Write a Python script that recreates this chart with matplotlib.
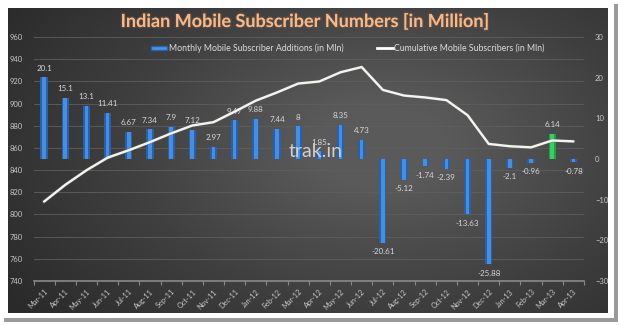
import matplotlib
matplotlib.use('Agg')
import matplotlib.pyplot as plt
import numpy as np
from matplotlib.patches import Rectangle, Patch
from matplotlib.lines import Line2D
from matplotlib.colors import LinearSegmentedColormap
import matplotlib.patheffects as pe

plt.rcParams['font.family'] = ['Lato', 'DejaVu Sans']

months = ['Mar-11', 'Apr-11', 'May-11', 'Jun-11', 'Jul-11', 'Aug-11', 'Sep-11', 'Oct-11',
          'Nov-11', 'Dec-11', 'Jan-12', 'Feb-12', 'Mar-12', 'Apr-12', 'May-12', 'Jun-12',
          'Jul-12', 'Aug-12', 'Sep-12', 'Oct-12', 'Nov-12', 'Dec-12', 'Jan-13', 'Feb-13',
          'Mar-13', 'Apr-13']
additions = [20.1, 15.1, 13.1, 11.41, 6.67, 7.34, 7.9, 7.12, 2.97, 9.47, 9.88, 7.44, 8,
             1.85, 8.35, 4.73, -20.61, -5.12, -1.74, -2.39, -13.63, -25.88, -2.1, -0.96,
             6.14, -0.78]
cumulative = [811.6, 826.7, 839.8, 851.2, 857.9, 865.2, 873.1, 880.2, 883.2, 892.7, 902.6,
              910.0, 918.0, 919.9, 928.2, 932.9, 912.3, 907.2, 905.5, 903.1, 889.5, 863.6,
              861.5, 860.5, 866.7, 865.9]
highlight = 'Mar-13'

left_ticks = list(range(740, 961, 20))
right_ticks = list(range(-30, 31, 10))

W, H = 620, 325
fig = plt.figure(figsize=(W / 100, H / 100), dpi=100, facecolor='white')

def fx(x):
    return x / W

def fy(y):
    return 1 - y / H

# shadow + white panel
fig.patches.append(Rectangle((fx(4), fy(322)), fx(614), 318 / H, transform=fig.transFigure,
                             facecolor='#9a9a9a', edgecolor='none', zorder=-10))
fig.patches.append(Rectangle((0, fy(318)), fx(614), 318 / H, transform=fig.transFigure,
                             facecolor='white', edgecolor='none', zorder=-9))

# dark gradient background
bg = fig.add_axes([fx(8), fy(313), fx(600), 305 / H])
yy, xx = np.mgrid[0:1:200j, 0:1:400j]
r = np.sqrt(((xx - 0.62) / 0.75) ** 2 + ((yy - 0.45) / 0.9) ** 2)
val = np.clip(1 - r, 0, 1)
cmap = LinearSegmentedColormap.from_list('g', ['#2a2a2a', '#3f3f3f', '#5a5a5a'])
bg.imshow(val, cmap=cmap, aspect='auto', extent=[0, 1, 0, 1], vmin=0, vmax=0.85)
bg.set_axis_off()

rect = [fx(33.5), fy(281), fx(550.5), 244 / H]
ax = fig.add_axes(rect)          # left scale, grid
ax2 = ax.twinx()                 # right scale, bars
ax3 = ax.twinx()                 # left scale, line on top
for a in (ax, ax2, ax3):
    a.patch.set_visible(False)
    for s in a.spines.values():
        s.set_visible(False)

x = np.arange(len(months))

ax.set_ylim(740, 960)
ax3.set_ylim(740, 960)
ax2.set_ylim(-30, 30)
ax.set_xlim(-0.5, len(months) - 0.5)

ax.set_yticks(left_ticks)
ax.yaxis.grid(True, color='#5e5e5e', linewidth=0.6)
ax.set_axisbelow(True)
ax.tick_params(axis='y', length=0, labelsize=5.5, labelcolor='#c8c8c8', pad=8)
ax2.set_yticks(right_ticks)
ax2.tick_params(axis='y', length=0, labelsize=5.5, labelcolor='#c8c8c8', pad=8)
ax3.set_yticks([])

ax.set_xticks(x)
ax.set_xticklabels(months, rotation=45, ha='right', rotation_mode='anchor',
                   fontsize=5.2, color='#c8c8c8')
ax.tick_params(axis='x', length=0, pad=5)
ax.set_xticks(np.arange(-0.5, len(months), 1), minor=True)
ax.tick_params(axis='x', which='minor', length=3, color='#8a8a8a', width=0.8)
ax.spines['bottom'].set_visible(True)
ax.spines['bottom'].set_color('#8a8a8a')
ax.spines['bottom'].set_linewidth(1.2)

# bars
base_cols = ['#1aa340' if m == highlight else '#2461ae' for m in months]
hi_cols = ['#3fd16a' if m == highlight else '#4f93e0' for m in months]
ax2.bar(x, additions, width=0.34, color=base_cols, edgecolor='none')
ax2.bar(x, additions, width=0.17, color=hi_cols, edgecolor='none', alpha=0.9)

for xi, v in zip(x, additions):
    lbl = ('%g' % v)
    if v >= 0:
        ax2.annotate(lbl, (xi, v), xytext=(0, 4), textcoords='offset points',
                     ha='center', va='bottom', fontsize=5.8, color='#d8d8d8')
    else:
        ax2.annotate(lbl, (xi, v), xytext=(0, -4), textcoords='offset points',
                     ha='center', va='top', fontsize=5.8, color='#d8d8d8')

# line
ax3.plot(x, cumulative, color='#6a6a6a', linewidth=2.6, alpha=0.5)
ax3.plot(x, cumulative, color='#f4f4f0', linewidth=1.7, solid_capstyle='round')

# title
fig.text(fx(305), fy(21), 'Indian Mobile Subscriber Numbers [in Million]', ha='center',
         va='center', fontsize=13, fontweight='bold', color='#f5b98a',
         path_effects=[pe.withStroke(linewidth=2, foreground='#6b5040', alpha=0.5)])

# legend
handles = [Patch(facecolor='#4f93e0', edgecolor='#2461ae'),
           Line2D([0], [0], color='white', linewidth=2)]
labels = ['Monthly Mobile Subscriber Additions (in Mln)', 'Cumulative Mobile Subscribers (in Mln)']
leg = fig.legend(handles, labels, loc='center', bbox_to_anchor=(fx(348), fy(48)), ncol=2,
                 frameon=False, fontsize=6.3, labelcolor='#dcdcdc', handlelength=1.8,
                 handleheight=0.35, handletextpad=0.2, columnspacing=3.8)

# watermark
fig.text(fx(316), fy(152), 'trak.in', ha='center', va='center', fontsize=14,
         color='#d0d0d0', zorder=10)

fig.savefig('out.png', dpi=100, facecolor='white')
